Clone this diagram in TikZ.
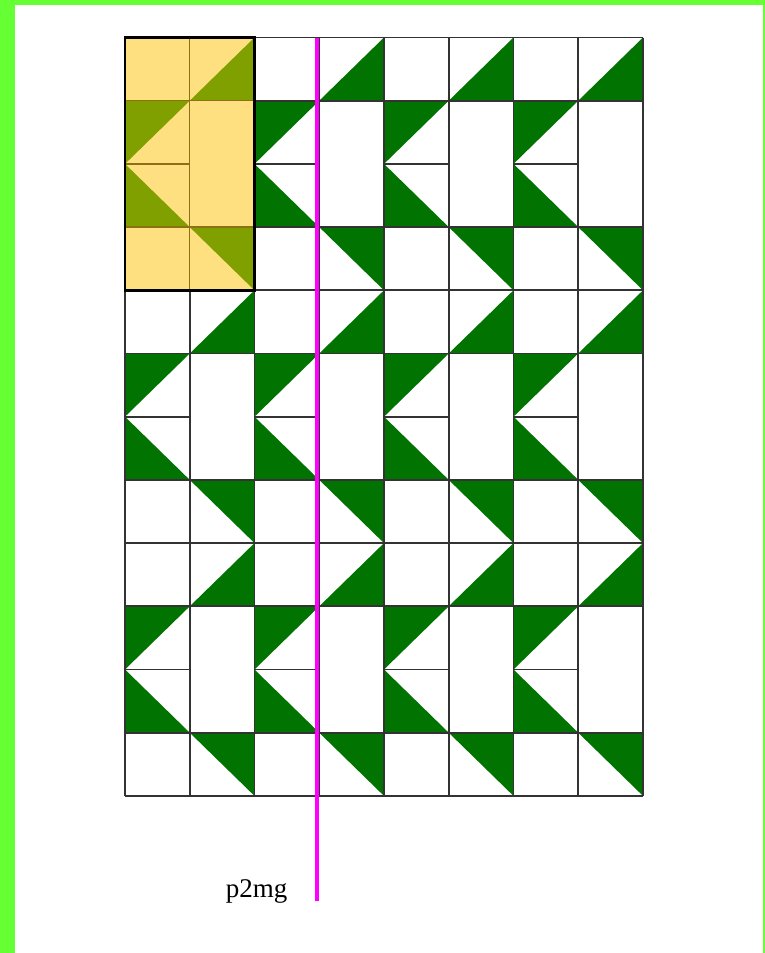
\documentclass[tikz,border=0pt]{standalone}
\usepackage{fontspec}
\setmainfont{Liberation Serif}
\definecolor{bordergreen}{RGB}{102,255,51}
\definecolor{tilegreen}{RGB}{0,115,0}
\definecolor{paleyellow}{RGB}{255,224,128}
\definecolor{olivetri}{RGB}{128,160,0}
\definecolor{oliveline}{RGB}{140,112,20}
\definecolor{axismagenta}{RGB}{255,0,255}
\begin{document}
\begin{tikzpicture}[x=1pt,y=-1pt,
  gridline/.style={draw=black!80, line width=1.8pt},
  greentri/.style={fill=tilegreen},
  olivetriangle/.style={fill=olivetri},
  innerline/.style={draw=oliveline, line width=1.3pt},
  blockframe/.style={draw=black, line width=2.8pt},
  mirrorline/.style={draw=axismagenta, line width=3.6pt},
  caption/.style={font=\fontsize{27}{27}\selectfont, text=black, inner sep=0pt, anchor=base}]
\useasboundingbox (0,0) rectangle (765,953);
\fill[white] (0,0) rectangle (765,953);
\fill[bordergreen] (0,0) rectangle (15,953);
\fill[bordergreen] (0,0) rectangle (765,5);
\fill[bordergreen] (763,0) rectangle (765,953);
% green triangles
\foreach \i in {0,...,3} {
  \foreach \j in {0,1,2} {
    \pgfmathsetmacro\xa{125+129.5*\i}
    \pgfmathsetmacro\xb{\xa+64.75}
    \pgfmathsetmacro\xc{\xa+129.5}
    \pgfmathsetmacro\ya{37.5+252.8*\j}
    \pgfmathsetmacro\yb{\ya+63.2}
    \pgfmathsetmacro\yc{\ya+126.4}
    \pgfmathsetmacro\yd{\ya+189.6}
    \pgfmathsetmacro\ye{\ya+252.8}
    \fill[greentri] (\xb,\yb) -- (\xc,\ya) -- (\xc,\yb) -- cycle;
    \fill[greentri] (\xa,\yb) -- (\xb,\yb) -- (\xa,\yc) -- cycle;
    \fill[greentri] (\xa,\yc) -- (\xa,\yd) -- (\xb,\yd) -- cycle;
    \fill[greentri] (\xb,\yd) -- (\xc,\yd) -- (\xc,\ye) -- cycle;
  }
}
% grid lines
\foreach \k in {0,...,8} {
  \pgfmathsetmacro\xx{125+64.75*\k}
  \draw[gridline] (\xx,37.5) -- (\xx,796);
}
\foreach \r in {0,1,3,4,5,7,8,9,11,12} {
  \pgfmathsetmacro\yy{37.5+63.2*\r}
  \draw[gridline] (125,\yy) -- (643,\yy);
}
\foreach \r in {2,6,10} {
  \foreach \i in {0,...,3} {
    \pgfmathsetmacro\yy{37.5+63.2*\r}
    \pgfmathsetmacro\xa{125+129.5*\i}
    \pgfmathsetmacro\xb{\xa+64.75}
    \draw[gridline] (\xa,\yy) -- (\xb,\yy);
  }
}
% highlighted unit cell
\fill[paleyellow] (125,37.5) rectangle (254.5,290.3);
\fill[olivetriangle] (189.75,100.7) -- (254.5,37.5) -- (254.5,100.7) -- cycle;
\fill[olivetriangle] (125,100.7) -- (189.75,100.7) -- (125,163.9) -- cycle;
\fill[olivetriangle] (125,163.9) -- (125,227.1) -- (189.75,227.1) -- cycle;
\fill[olivetriangle] (189.75,227.1) -- (254.5,227.1) -- (254.5,290.3) -- cycle;
\draw[innerline] (189.75,37.5) -- (189.75,290.3);
\draw[innerline] (125,100.7) -- (254.5,100.7);
\draw[innerline] (125,163.9) -- (189.75,163.9);
\draw[innerline] (125,227.1) -- (254.5,227.1);
\draw[blockframe] (125,37.5) rectangle (254.5,290.3);
% mirror line
\coordinate (mtop) at (317,38);
\coordinate (mbot) at (317,901);
\draw[mirrorline] (mtop) -- (mbot);
\node[caption] (label) at (256.5,897.7) {p2mg};
\end{tikzpicture}
\end{document}
